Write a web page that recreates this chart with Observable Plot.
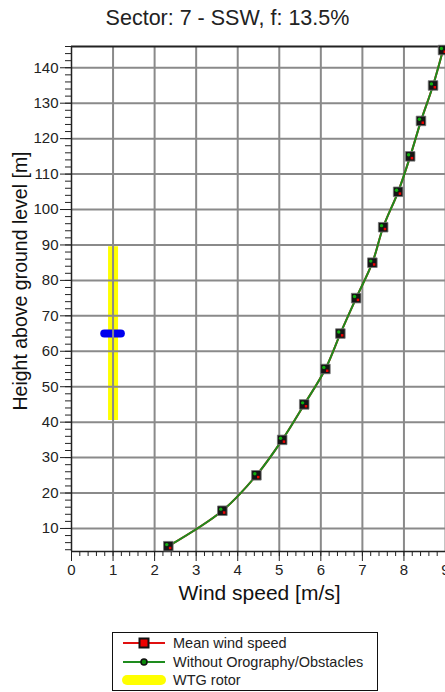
<!DOCTYPE html>
<html>
<head>
<meta charset="utf-8">
<script src="https://cdn.jsdelivr.net/npm/d3@7"></script>
<script src="https://cdn.jsdelivr.net/npm/@observablehq/plot@0.6"></script>
<style>
  body { margin: 0; width: 445px; height: 692px; position: relative; overflow: hidden; background: #fff;
         font-family: "Liberation Sans", Arial, sans-serif; }
  #title { position: absolute; left: 5px; top: 0; width: 445px; text-align: center; font-size: 21.5px;
           line-height: 36px; color: #222; }
  #chart { position: absolute; left: 0; top: 36px; }
  #legend { position: absolute; left: 112px; top: 632px; width: 266px; height: 59px; box-sizing: border-box;
            border: 1.5px solid #111; background: #fff; }
  .row { position: absolute; left: 0; height: 18px; display: flex; align-items: center; }
  .row svg { margin-left: 9px; }
  .row span { margin-left: 7px; font-size: 14.5px; color: #222; }
</style>
</head>
<body>
<div id="title">Sector: 7 - SSW, f: 13.5%</div>
<div id="chart"></div>
<div id="legend">
  <div class="row" style="top:1px">
    <svg width="44" height="12"><line x1="1" x2="43" y1="6" y2="6" stroke="#e01010" stroke-width="2"/><rect x="17.5" y="1.5" width="9" height="9" fill="#ee0000" stroke="#111" stroke-width="2"/></svg>
    <span>Mean wind speed</span>
  </div>
  <div class="row" style="top:20px">
    <svg width="44" height="12"><line x1="1" x2="43" y1="6" y2="6" stroke="#1e8c1e" stroke-width="2"/><circle cx="22" cy="6" r="3" fill="#0a8a0a" stroke="#111" stroke-width="1.5"/></svg>
    <span>Without Orography/Obstacles</span>
  </div>
  <div class="row" style="top:38px">
    <svg width="44" height="12"><line x1="5" x2="39" y1="6" y2="6" stroke="#ffff00" stroke-width="10" stroke-linecap="round"/></svg>
    <span>WTG rotor</span>
  </div>
</div>
<script>
// Heights [m]
const heights = [5, 15, 25, 35, 45, 55, 65, 75, 85, 95, 105, 115, 125, 135, 145];
// Mean wind speed [m/s]
const meanWind = [2.33, 3.63, 4.45, 5.07, 5.60, 6.11, 6.47, 6.85, 7.24, 7.50, 7.86, 8.15, 8.41, 8.70, 8.94];
// Without orography/obstacles [m/s]
const withoutOro = [2.33, 3.63, 4.45, 5.07, 5.60, 6.11, 6.47, 6.85, 7.24, 7.50, 7.86, 8.15, 8.41, 8.70, 8.94];
// WTG rotor
const rotorX = [1];
const rotorBottom = [40.5];
const rotorTop = [89.5];
const hubHeight = [65];
const hubX1 = [0.8];
const hubX2 = [1.2];
// Ticks
const xTicks = [0, 1, 2, 3, 4, 5, 6, 7, 8, 9];
const yTicks = [10, 20, 30, 40, 50, 60, 70, 80, 90, 100, 110, 120, 130, 140];
const xMinorStep = 0.2;
const yMinorStep = 2;
const xDomain = [0, 9];
const yDomain = [3.5, 146];

const meanData = heights.map((h, i) => ({h, v: meanWind[i]}));
const oroData = heights.map((h, i) => ({h, v: withoutOro[i]}));
const rotor = rotorX.map((x, i) => ({x, y1: rotorBottom[i], y2: rotorTop[i]}));
const hub = hubHeight.map((y, i) => ({y, x1: hubX1[i], x2: hubX2[i]}));
const xMinor = d3.range(xDomain[0], xDomain[1] + 1e-9, xMinorStep);
const yMinor = d3.range(4, yDomain[1] + 1e-9, yMinorStep);

const chart = Plot.plot({
  width: 445, height: 580,
  marginTop: 10, marginBottom: 65, marginLeft: 71, marginRight: 0,
  x: {domain: xDomain},
  y: {domain: yDomain},
  style: {fontFamily: "Liberation Sans, Arial, sans-serif", background: "white", overflow: "visible", color: "#222"},
  marks: [
    Plot.ruleX(rotor, {x: "x", y1: "y1", y2: "y2", stroke: "#ffff00", strokeWidth: 10}),
    Plot.ruleY(hub, {y: "y", x1: "x1", x2: "x2", stroke: "#0000ee", strokeWidth: 8, strokeLinecap: "round"}),
    Plot.ruleX(xTicks.filter(d => d > 0), {stroke: "#8a8a8a", strokeWidth: 2, strokeOpacity: 1}),
    Plot.ruleY(yTicks, {stroke: "#8a8a8a", strokeWidth: 2, strokeOpacity: 1}),
    Plot.ruleY([yDomain[1]], {stroke: "#222", strokeWidth: 2}),
    Plot.ruleY([yDomain[0]], {stroke: "#222", strokeWidth: 1.5}),
    Plot.ruleX([xDomain[0]], {stroke: "#222", strokeWidth: 1.5}),
    Plot.axisX(xMinor, {tickSize: 5, text: null, stroke: "#222", label: null}),
    Plot.axisY(yMinor, {tickSize: 6, text: null, stroke: "#222", label: null}),
    Plot.axisX(xTicks, {tickSize: 10, tickPadding: 3, fontSize: 15, stroke: "#222", label: null}),
    Plot.axisY(yTicks, {tickSize: 11, tickPadding: 2, fontSize: 15, stroke: "#222", label: null}),
    Plot.line(meanData, {x: "v", y: "h", stroke: "#e01010", strokeWidth: 2, curve: "catmull-rom"}),
    Plot.line(oroData, {x: "v", y: "h", stroke: "#1e8c1e", strokeWidth: 2, curve: "catmull-rom"}),
    Plot.dot(meanData, {x: "v", y: "h", symbol: "square", r: 5.4, fill: "#151515", stroke: "#777", strokeWidth: 0.8}),
    Plot.dot(meanData, {x: "v", y: "h", symbol: "square", r: 1.4, fill: "#ee0000", dx: 1.8, dy: 1.8}),
    Plot.dot(oroData, {x: "v", y: "h", r: 1.7, fill: "#10b010", dx: -1.6, dy: -1.6}),
    Plot.text(["Height above ground level [m]"], {frameAnchor: "left", textAnchor: "middle", lineAnchor: "middle", rotate: -90, dx: -51, dy: -18, fontSize: 19.5, fill: "#111"}),
    Plot.text(["Wind speed [m/s]"], {frameAnchor: "bottom", textAnchor: "middle", lineAnchor: "middle", dy: 42, dx: 1, fontSize: 21, fill: "#111"})
  ]
});
document.getElementById("chart").appendChild(chart);
</script>
</body>
</html>
